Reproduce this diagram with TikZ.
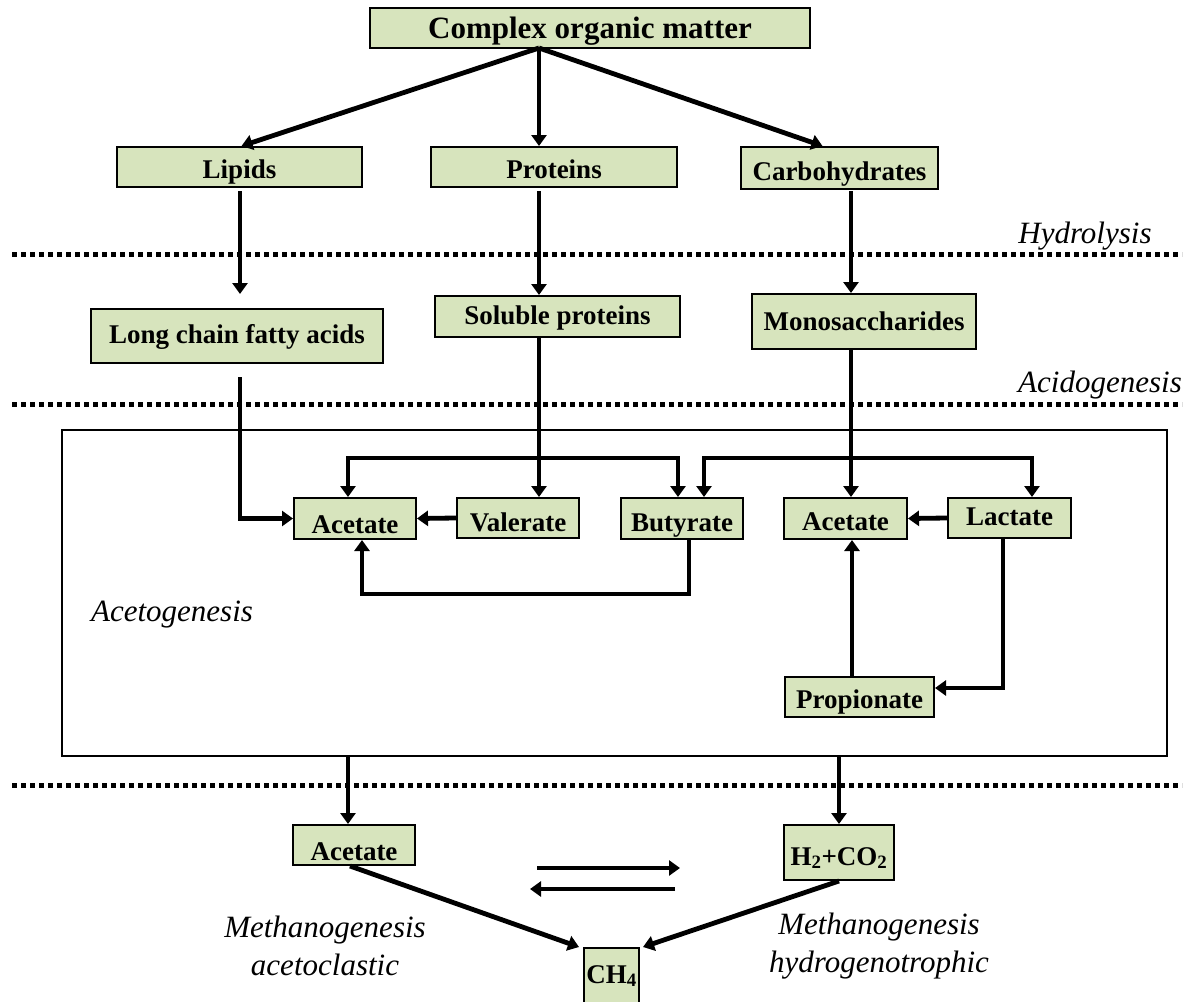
\documentclass[tikz,border=0pt]{standalone}
\usepackage{fontspec}
\setmainfont{Liberation Serif}
\usetikzlibrary{arrows.meta,calc}
\definecolor{boxgreen}{HTML}{D7E4BD}
\begin{document}
\begin{tikzpicture}[x=1pt,y=-1pt,
  stagebox/.style={draw=black,line width=2pt,fill=boxgreen,inner sep=0pt,
    text height=22pt,text depth=0pt,
    font=\bfseries\fontsize{27}{30}\selectfont},
  arr/.style={line width=4.8pt,-{Triangle[length=11pt,width=15pt]}},
  sep/.style={line width=5pt,dash pattern=on 5pt off 4pt},
  lab/.style={font=\itshape\fontsize{31}{38}\selectfont,align=center,inner sep=0pt}]
\useasboundingbox (0,0) rectangle (1190,1001);
% separators
\draw[sep] (12,254) -- (1182,254);
\draw[sep] (12,404) -- (1182,404);
\draw[sep] (12,785) -- (1182,785);
% big box
\node[draw=black,line width=1.4pt,minimum width=1105pt,minimum height=326pt,inner sep=0pt] (big) at (614.5,593) {};
% nodes
\node[stagebox,minimum width=440pt,minimum height=40pt,text height=20pt,font=\bfseries\fontsize{31}{34}\selectfont] (com) at (590,28) {Complex organic matter};
\node[stagebox,minimum width=245pt,minimum height=40pt] (lip) at (239.5,167) {Lipids};
\node[stagebox,minimum width=246pt,minimum height=40pt] (pro) at (554,167) {Proteins};
\node[stagebox,minimum width=197pt,minimum height=42pt,text height=24pt] (car) at (839.5,168) {Carbohydrates};
\node[stagebox,minimum width=292pt,minimum height=54pt,text height=14pt] (lcfa) at (237,336) {Long chain fatty acids};
\node[stagebox,minimum width=245pt,minimum height=41pt,text height=16pt] (sol) at (557.5,316.5) {Soluble proteins};
\node[stagebox,minimum width=224pt,minimum height=55pt,text height=17pt] (mono) at (864,321.5) {Monosaccharides};
\node[stagebox,minimum width=122pt,minimum height=41pt,text height=29pt] (ac1) at (355,518.5) {Acetate};
\node[stagebox,minimum width=122pt,minimum height=40pt,text height=26pt] (val) at (518,518) {Valerate};
\node[stagebox,minimum width=122pt,minimum height=41pt,text height=26pt] (but) at (682,518.5) {Butyrate};
\node[stagebox,minimum width=123pt,minimum height=41pt,text height=23pt] (ac2) at (845.5,518.5) {Acetate};
\node[stagebox,minimum width=123pt,minimum height=40pt,text height=14pt] (lac) at (1009.5,518) {Lactate};
\node[stagebox,minimum width=149pt,minimum height=40pt] (prop) at (859.5,697) {Propionate};
\node[stagebox,minimum width=122pt,minimum height=40pt,text height=30pt] (ac3) at (354,845) {Acetate};
\node[stagebox,minimum width=110pt,minimum height=55pt,text height=25pt] (h2) at (839,852.5) {H\textsubscript{2}+CO\textsubscript{2}};
\node[stagebox,minimum width=55pt,minimum height=56pt,text height=14pt] (ch4) at (611.5,976) {CH\textsubscript{4}};
% labels
\node[lab,anchor=base] (lhyd) at (1085,243) {Hydrolysis};
\node[lab,anchor=base] (lacid) at (1100,392) {Acidogenesis};
\node[lab,anchor=base] (lacet) at (172,621) {Acetogenesis};
\node[lab] (lma) at (325,946) {Methanogenesis\\acetoclastic};
\node[lab] (lmh) at (879,946) {Methanogenesis\\hydrogenotrophic};
% helper coordinates
\coordinate (csrc) at (539,48);
\coordinate (mx) at (851,0);
\coordinate (j1) at (539,458);
\coordinate (j2) at (851,458);
% top arrows
\draw[arr] (csrc) -- ([xshift=2pt]lip.north);
\draw[arr] (csrc) -- (csrc |- pro.north);
\draw[arr] (csrc) -- ([xshift=-17pt]car.north);
\draw[arr] ([xshift=0.5pt,yshift=-3pt]lip.south) -- ([xshift=3pt,yshift=14pt]lcfa.north);
\draw[arr] ([yshift=-3pt]csrc |- pro.south) -- (csrc |- sol.north);
\draw[arr] ([yshift=-1pt]mx |- car.south) -- (mx |- mono.north);
% acidogenesis to acetogenesis
\draw[arr] ([xshift=3pt,yshift=-13pt]lcfa.south) |- (ac1.west);
\draw[arr] (csrc |- sol.south) -- (csrc |- val.north);
\draw[arr] (j1) -| ([xshift=-7pt]ac1.north);
\draw[arr] (j1) -| ([xshift=-4pt]but.north);
\draw[arr] (mx |- mono.south) -- (mx |- ac2.north);
\draw[arr] (j2) -| ([xshift=22pt]but.north);
\draw[arr] (j2) -| ([xshift=22.5pt]lac.north);
% acetogenesis internal
\draw[arr] (val.west) -- (ac1.east);
\draw[arr] ([xshift=7pt]but.south) -- ++(0,54) -| ([xshift=7pt]ac1.south);
\draw[arr] (lac.west) -- (ac2.east);
\draw[arr] ([xshift=-6.5pt]lac.south) |- ([yshift=9pt]prop.east);
\draw[arr] ([xshift=-7.5pt]prop.north) -- ([xshift=-7.5pt]prop.north |- ac2.south);
% methanogenesis
\draw[arr] ([xshift=-6pt]ac3.north |- big.south) -- ([xshift=-6pt]ac3.north);
\draw[arr] (h2.north |- big.south) -- (h2.north);
\coordinate (e1) at (537,868);
\coordinate (e2) at (680,868);
\coordinate (e3) at (675,889);
\coordinate (e4) at (530,889);
\draw[arr] (e1) -- (e2);
\draw[arr] (e3) -- (e4);
\draw[arr] ([xshift=-4pt]ac3.south) -- ([xshift=-4pt]ch4.north west);
\draw[arr] (h2.south) -- ([xshift=3pt]ch4.north east);
\end{tikzpicture}
\end{document}
